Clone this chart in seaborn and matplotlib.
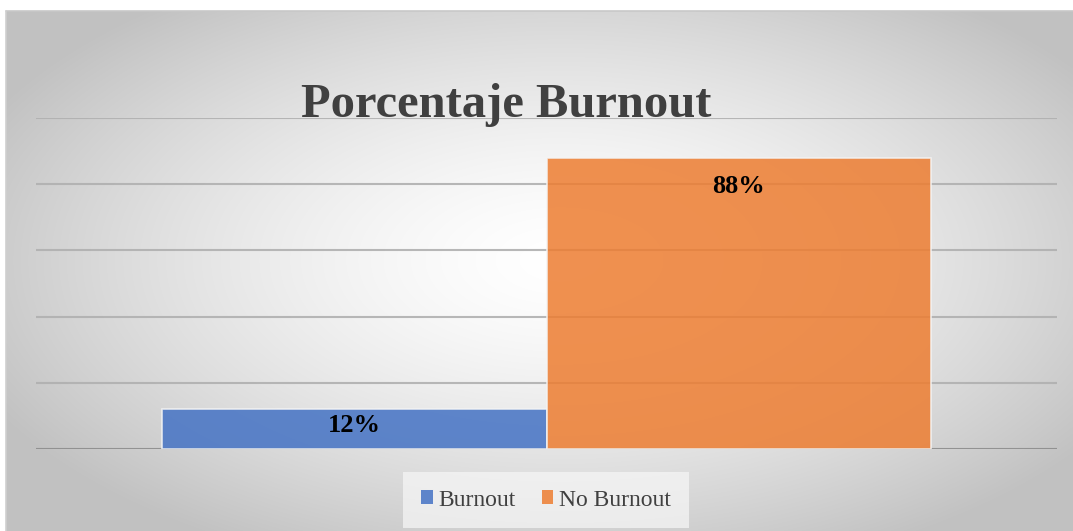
import numpy as np
import pandas as pd
import matplotlib
matplotlib.use("Agg")
import matplotlib.pyplot as plt
from matplotlib.patches import Patch
import seaborn as sns

categories = ["Burnout", "No Burnout"]
values = [12, 88]
colors = ["#4472C4", "#ED7D31"]
title = "Porcentaje Burnout"
yticks = [0, 20, 40, 60, 80, 100]

sns.set_theme(style="white")
plt.rcParams['font.family'] = ['Liberation Serif', 'DejaVu Serif']

W, H = 1073, 531
fig = plt.figure(figsize=(W / 100, H / 100), dpi=100)
fig.patch.set_facecolor("white")

# background panel with radial gradient
bg = fig.add_axes([6 / W, 0, 1 - 6 / W, 1 - 11 / H], zorder=0)
xx, yy = np.meshgrid(np.arange(6, W), np.arange(11, H))
d = np.sqrt(((xx - 560) / 640.0) ** 2 + ((yy - 260) / 330.0) ** 2)
g = 255 - 62 * np.clip(d, 0, 1) ** 1.5
img = np.dstack([g, g, g]) / 255.0
bg.imshow(img, aspect="auto", interpolation="bilinear")
bg.set_axis_off()
# border on top/left
fig.add_artist(plt.Line2D([6 / W, 1], [1 - 10.5 / H, 1 - 10.5 / H], color="#c8c8c8", lw=1.2))
fig.add_artist(plt.Line2D([5.5 / W, 5.5 / W], [0, 1 - 10.5 / H], color="#cfcfcf", lw=1.2))

ax = fig.add_axes([36 / W, (H - 449) / H, 1021 / W, 331 / H], zorder=2)
ax.patch.set_alpha(0)

df = pd.DataFrame({"grupo": ["Porcentaje"] * len(values), "serie": categories, "valor": values})
sns.barplot(data=df, x="grupo", y="valor", hue="serie", palette=colors, saturation=1,
            width=0.754, alpha=0.85, edgecolor="#f4f4f4", linewidth=1.2, legend=False,
            ax=ax, zorder=3)

ax.set_xlim(-0.5, 0.5)
ax.set_ylim(0, 100)
ax.set_yticks(yticks)
ax.set_xticks([])
ax.set_xlabel("")
ax.set_ylabel("")
ax.tick_params(left=False, labelleft=False)
for s in ax.spines.values():
    s.set_visible(False)
for t in yticks:
    ax.axhline(t, color="#8c8c8c" if t == 0 else "#b0b0b0", lw=1.5, alpha=0.9, zorder=1)

for bar, v in zip(ax.patches, values):
    cx = bar.get_x() + bar.get_width() / 2
    ax.text(cx, v - min(8.8, v * 0.4), f"{v}%", ha="center", va="center",
            fontsize=19, fontweight="bold", color="black", zorder=5)

fig.text(506 / W, (H - 117) / H, title, ha="center", va="baseline",
         fontsize=35, fontweight="bold", color="#404040", zorder=5)

handles = [Patch(facecolor=c, alpha=0.85, edgecolor="none") for c in colors]
leg = fig.legend(handles, categories, loc="center", bbox_to_anchor=(546 / W, (H - 500) / H),
                 ncol=2, fontsize=17, frameon=True, handlelength=0.5, handleheight=0.5,
                 handletextpad=0.25, columnspacing=1.1, borderpad=0.45, labelcolor="#404040")
leg.get_frame().set_facecolor("#f7f7f7")
leg.get_frame().set_alpha(0.7)
leg.get_frame().set_edgecolor("none")
leg.get_frame().set_boxstyle("square")
leg.set_zorder(5)

fig.savefig("out.png", dpi=100)
